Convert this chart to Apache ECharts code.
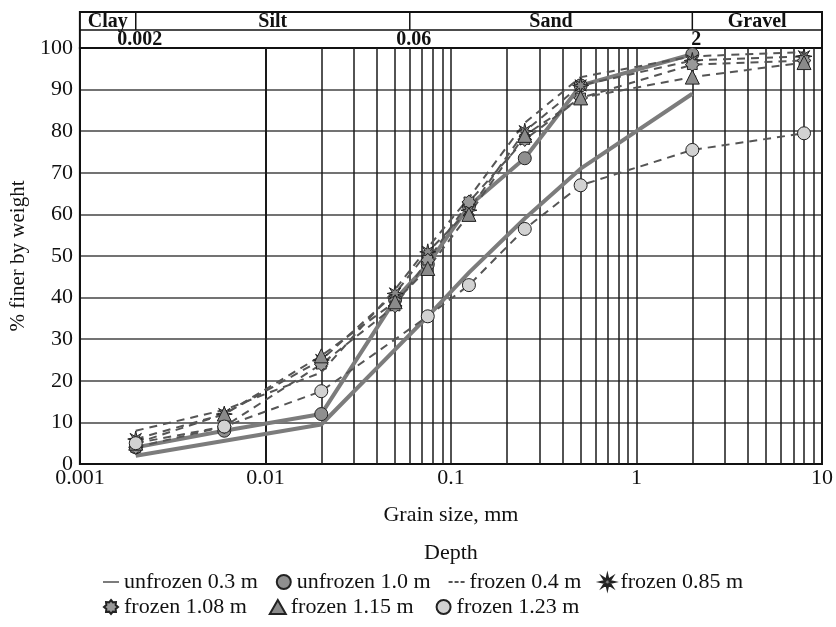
<!DOCTYPE html>
<html><head><meta charset="utf-8">
<script src="https://cdn.jsdelivr.net/npm/echarts@6/dist/echarts.min.js"></script>
<style>html,body{margin:0;padding:0;background:#fff}#c{width:836px;height:627px}</style>
</head><body><div id="c"></div><script>
// ---- data ----
const xTickLabels = ['0.001','0.01','0.1','1','10'];
const yTicks = [0,10,20,30,40,50,60,70,80,90,100];
const minorGridSizes = [0.002,0.003,0.004,0.005,0.006,0.007,0.008,0.009,
  0.02,0.03,0.04,0.05,0.06,0.07,0.08,0.09,
  0.2,0.3,0.4,0.5,0.6,0.7,0.8,0.9,
  2,3,4,5,6,7,8,9];
const classNames = ['Clay','Silt','Sand','Gravel'];
const classBounds = [0.001,0.002,0.06,2,10];
const classBoundLabels = ['0.002','0.06','2'];

const unfrozen03Size = [0.002,0.02,0.075,0.125,0.25,0.5,2];
const unfrozen03Pct  = [2,9.5,35.5,46,59,71,89];
const unfrozen10Size = [0.002,0.006,0.02,0.05,0.075,0.125,0.25,0.5,2];
const unfrozen10Pct  = [4,8,12,39.5,48,62,73.5,91,98.5];
const frozen04Size = [0.002,0.006,0.02,0.05,0.075,0.125,0.25,0.5,2,8];
const frozen04Pct  = [8,13,22,42,52,64,82,93,98,99];
const frozen085Size = [0.002,0.006,0.02,0.05,0.075,0.125,0.25,0.5,2,8];
const frozen085Pct  = [6,12,25,41,51,61,80,91,97,98];
const frozen108Size = [0.002,0.006,0.02,0.05,0.075,0.125,0.25,0.5,2,8];
const frozen108Pct  = [4,9,24,38,49,63,78,88,96,97];
const frozen115Size = [0.002,0.006,0.02,0.05,0.075,0.125,0.25,0.5,2,8];
const frozen115Pct  = [5,12,26,39,47,60,79,88,93,96.5];
const frozen123Size = [0.002,0.006,0.02,0.075,0.125,0.25,0.5,2,8];
const frozen123Pct  = [5,9,17.5,35.5,43,56.5,67,75.5,79.5];

const seriesNames = ['unfrozen 0.3 m','unfrozen 1.0 m','frozen 0.4 m','frozen 0.85 m',
  'frozen 1.08 m','frozen 1.15 m','frozen 1.23 m'];

// ---- styling helpers ----
function starPath(n, r1, r2) {
  let d = '';
  for (let i = 0; i < 2 * n; i++) {
    const a = i * Math.PI / n - Math.PI / 2;
    const r = i % 2 ? r2 : r1;
    d += (i ? 'L' : 'M') + (50 + 50 * r * Math.cos(a)).toFixed(1) + ',' + (50 + 50 * r * Math.sin(a)).toFixed(1);
  }
  return 'path://' + d + 'Z';
}
const asterisk = starPath(8, 1, 0.38);
const rosette = starPath(8, 1, 0.72);
const solidIcon = 'path://M0,0L24,0L24,3L0,3Z';
const dashIcon = 'path://M0,0h6v3h-6zM9,0h6v3h-6zM18,0h6v3h-6z';
const SERIF = '"Liberation Serif","DejaVu Serif",serif';
const pairs = (xs, ys) => xs.map((x, i) => [x, ys[i]]);

const solidLine = { color: '#7c7c7c', width: 4 };
const dashLine = { color: '#555', width: 2, type: [8, 6] };
const mk = (fill) => ({ color: fill, borderColor: '#222', borderWidth: 1 });

const series = [
  { name: seriesNames[0], data: pairs(unfrozen03Size, unfrozen03Pct), symbol: 'none', lineStyle: solidLine, itemStyle: { color: '#7c7c7c' } },
  { name: seriesNames[1], data: pairs(unfrozen10Size, unfrozen10Pct), symbol: 'circle', symbolSize: 13, lineStyle: solidLine, itemStyle: mk('#8f8f8f') },
  { name: seriesNames[2], data: pairs(frozen04Size, frozen04Pct), symbol: 'none', lineStyle: dashLine, itemStyle: { color: '#555' } },
  { name: seriesNames[3], data: pairs(frozen085Size, frozen085Pct), symbol: asterisk, symbolSize: 16, lineStyle: dashLine, itemStyle: mk('#888') },
  { name: seriesNames[4], data: pairs(frozen108Size, frozen108Pct), symbol: rosette, symbolSize: 14, lineStyle: dashLine, itemStyle: mk('#999') },
  { name: seriesNames[5], data: pairs(frozen115Size, frozen115Pct), symbol: 'triangle', symbolSize: 14, lineStyle: dashLine, itemStyle: mk('#8a8a8a') },
  { name: seriesNames[6], data: pairs(frozen123Size, frozen123Pct), symbol: 'circle', symbolSize: 13, lineStyle: dashLine, itemStyle: mk('#d2d2d2') }
].map(s => Object.assign({ type: 'line', showSymbol: s.symbol !== 'none', z: 5 }, s));

series.push({
  type: 'line', data: [], silent: true, z: 1,
  markLine: {
    silent: true, symbol: ['none', 'none'], label: { show: false },
    lineStyle: { color: '#1a1a1a', width: 1.5, type: 'solid' },
    emphasis: { disabled: true },
    data: minorGridSizes.map(v => ({ xAxis: v }))
  }
});

const legendText = { fontFamily: SERIF, fontSize: 22, color: '#111' };
const icons = [solidIcon, 'circle', dashIcon, asterisk, rosette, 'triangle', 'circle'];
const legendItem = (i) => ({ name: seriesNames[i], icon: icons[i] });

const chart = echarts.init(document.getElementById('c'), null, { renderer: 'canvas' });
chart.setOption({
  animation: false,
  backgroundColor: '#fff',
  grid: { left: 78, right: 13, top: 48, bottom: 163, show: true, borderColor: '#111', borderWidth: 2 },
  xAxis: {
    type: 'log', logBase: 10, min: 0.001, max: 10,
    name: 'Grain size, mm', nameLocation: 'middle', nameGap: 40,
    nameTextStyle: { fontFamily: SERIF, fontSize: 22, color: '#111' },
    axisLine: { lineStyle: { color: '#111', width: 2 } },
    axisTick: { show: false },
    axisLabel: { fontFamily: SERIF, fontSize: 22, color: '#111', margin: 3,
      formatter: v => xTickLabels[Math.round(Math.log10(v)) + 3] },
    splitLine: { show: true, lineStyle: { color: '#1a1a1a', width: 1.5 } }
  },
  yAxis: {
    type: 'value', min: 0, max: 100, interval: 10,
    name: '% finer by weight', nameLocation: 'middle', nameGap: 48,
    nameTextStyle: { fontFamily: SERIF, fontSize: 21, color: '#111' },
    axisLine: { show: true, lineStyle: { color: '#111', width: 2 } },
    axisTick: { show: false },
    axisLabel: { fontFamily: SERIF, fontSize: 22, color: '#111', margin: 7,
      formatter: v => yTicks.includes(v) ? String(v) : '' },
    splitLine: { show: true, lineStyle: { color: '#444', width: 1.5 } }
  },
  legend: [
    { left: 98, top: 566, itemGap: 18, itemWidth: 16, itemHeight: 14, textStyle: legendText,
      selectedMode: false, data: [0,1,2,3].map(legendItem) },
    { left: 98, top: 591, itemGap: 22, itemWidth: 16, itemHeight: 14, textStyle: legendText,
      selectedMode: false, data: [4,5,6].map(legendItem) }
  ],
  series: series
});

// header band (Clay / Silt / Sand / Gravel) positioned through the x axis scale
const px = v => chart.convertToPixel({ xAxisIndex: 0 }, v);
const xb = classBounds.map(px);
const yTop = 12, yMid = 30, yBot = 48;
const g = [];
const ls = { stroke: '#111', lineWidth: 1.5 };
g.push({ type: 'rect', shape: { x: xb[0], y: yTop, width: xb[4] - xb[0], height: yBot - yTop }, style: { fill: 'none', stroke: '#111', lineWidth: 2 } });
g.push({ type: 'line', shape: { x1: xb[0], y1: yMid, x2: xb[4], y2: yMid }, style: ls });
for (let i = 1; i < 4; i++) g.push({ type: 'line', shape: { x1: xb[i], y1: yTop, x2: xb[i], y2: yMid }, style: ls });
const hdrFont = 'bold 20px ' + SERIF;
classNames.forEach((n, i) => g.push({ type: 'text', x: (xb[i] + xb[i + 1]) / 2, y: (yTop + yMid) / 2 + 1,
  style: { text: n, font: hdrFont, fill: '#111', align: 'center', verticalAlign: 'middle' } }));
classBoundLabels.forEach((n, i) => g.push({ type: 'text', x: xb[i + 1] + 4, y: (yMid + yBot) / 2 + 1,
  style: { text: n, font: hdrFont, fill: '#111', align: 'center', verticalAlign: 'middle' } }));
g.push({ type: 'text', x: (xb[0] + xb[4]) / 2, y: 553,
  style: { text: 'Depth', font: '22px ' + SERIF, fill: '#111', align: 'center', verticalAlign: 'middle' } });
chart.setOption({ graphic: g });
</script></body></html>
